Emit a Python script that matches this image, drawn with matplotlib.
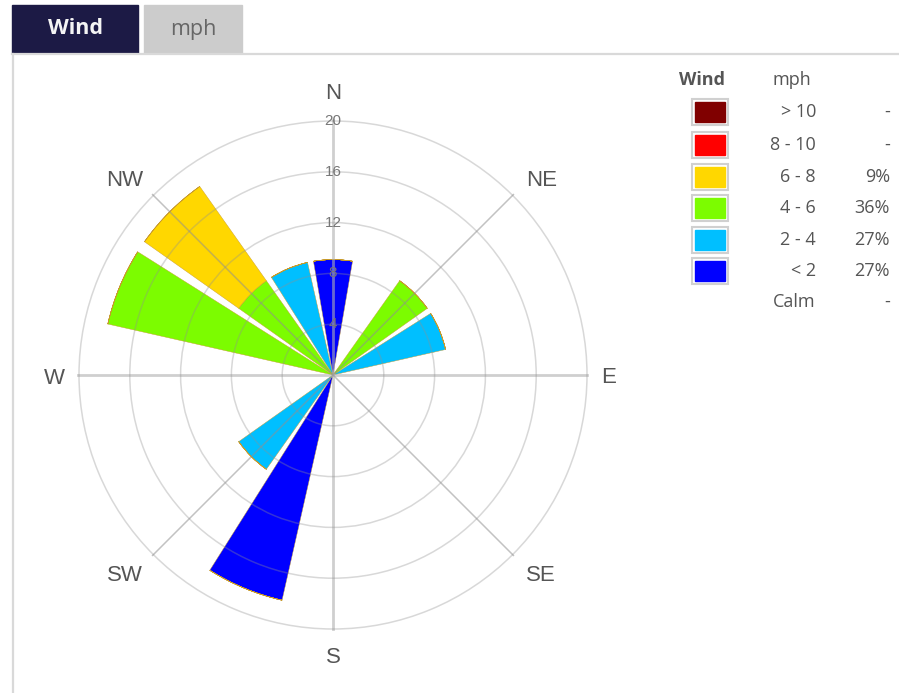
import numpy as np
import matplotlib
matplotlib.use("Agg")
import matplotlib.pyplot as plt
from matplotlib.patches import Rectangle
from matplotlib.transforms import offset_copy

# 16 compass sectors, values are % of observations (11 obs -> 9.09% each)
directions = ["N", "NNE", "NE", "ENE", "E", "ESE", "SE", "SSE",
              "S", "SSW", "SW", "WSW", "W", "WNW", "NW", "NNW"]
speed_bins = ["< 2", "2 - 4", "4 - 6", "6 - 8", "8 - 10", "> 10"]
bin_colors = ["#0000ff", "#00bfff", "#7cfc00", "#ffd700", "#ff0000", "#800000"]

lt2    = [9.09, 0, 0, 0, 0, 0, 0, 0, 0, 18.18, 0, 0, 0, 0, 0, 0]
s2_4   = [0, 0, 0, 9.09, 0, 0, 0, 0, 0, 0, 9.09, 0, 0, 0, 0, 9.09]
s4_6   = [0, 0, 9.09, 0, 0, 0, 0, 0, 0, 0, 0, 0, 0, 18.18, 9.09, 0]
s6_8   = [0, 0, 0, 0, 0, 0, 0, 0, 0, 0, 0, 0, 0, 0, 9.09, 0]
s8_10  = [0] * 16
gt10   = [0] * 16
series = [lt2, s2_4, s4_6, s6_8, s8_10, gt10]

legend_pct = ["27%", "27%", "36%", "9%", "-", "-"]
calm_pct = "-"
radial_ticks = [4, 8, 12, 16, 20]
compass_labels = ["N", "NE", "E", "SE", "S", "SW", "W", "NW"]

W, H = 899, 693
fig = plt.figure(figsize=(W / 100, H / 100), dpi=100)
FONT = "Open Sans"


def fx(x):
    return x / W


def fy(y):
    return 1 - y / H


# --- tabs on top
fig.patches.append(Rectangle((fx(12), fy(53)), (138 - 12) / W, 48 / H,
                             transform=fig.transFigure, color="#1c1a45", zorder=0))
fig.patches.append(Rectangle((fx(144), fy(53)), (242 - 144) / W, 48 / H,
                             transform=fig.transFigure, color="#cccccc", zorder=0))
fig.text(fx(75), fy(29), "Wind", color="#f4f4f4", fontsize=15.5, fontweight="bold",
         ha="center", va="center", family=FONT)
fig.text(fx(193), fy(29), "mph", color="#666666", fontsize=15.5,
         ha="center", va="center", family=FONT)
fig.add_artist(plt.Line2D([fx(12), 1], [fy(54), fy(54)], transform=fig.transFigure,
                          color="#d9d9d9", lw=1.6))
fig.add_artist(plt.Line2D([fx(13), fx(13)], [fy(54), 0], transform=fig.transFigure,
                          color="#d9d9d9", lw=1.6))

# --- wind rose
rmax = 20.15
R = 254 * rmax / 20
ax = fig.add_axes([fx(333 - R), fy(375 + R), 2 * R / W, 2 * R / H], projection="polar")
ax.set_theta_zero_location("N")
ax.set_theta_direction(-1)

theta = np.deg2rad(np.arange(16) * 22.5)
width = np.deg2rad(19.5)
bottom = np.zeros(16)
for vals, col in zip(series, bin_colors):
    vals = np.array(vals)
    ax.bar(theta, vals, width=width, bottom=bottom, color=col,
           edgecolor="#c89a2a", linewidth=0.3, zorder=1)
    bottom += vals

ax.set_ylim(0, rmax)
ax.set_yticks(radial_ticks)
ax.set_yticklabels([])
ax.set_xticks(np.deg2rad(np.arange(0, 360, 45)))
ax.set_xticklabels([])
ax.spines["polar"].set_visible(False)
ax.set_axisbelow(False)
ax.yaxis.grid(True, color="#909090", alpha=0.35, lw=1.1)
ax.xaxis.grid(True, color="#909090", alpha=0.55, lw=1.1)
for i, gl in enumerate(ax.xaxis.get_gridlines()):
    gl.set_data([gl.get_xdata()[0]] * 2, [0, 20])
    if i % 2 == 0:
        gl.set_color("#b0b0b0")
        gl.set_linewidth(2.0)
        gl.set_alpha(0.6)

for r in radial_ticks:
    ax.text(0, r, str(r), ha="center", va="center", fontsize=11,
            color="#777777", family="Liberation Sans", zorder=3)

# compass labels, nudged down a few pixels like the original
lab_tr = offset_copy(ax.transData, fig=fig, y=-3, units="dots")
label_r = [22.4, 22.6, 21.7, 22.6, 22.0, 22.6, 21.9, 22.6]
label_a = [0, 46.5, 90, 133.5, 180, 226.5, 270, 313.5]
for lab, lr, la in zip(compass_labels, label_r, label_a):
    ax.text(np.deg2rad(la), lr, lab, ha="center", va="center",
            fontsize=16, color="#555555", family="Liberation Sans",
            clip_on=False, transform=lab_tr)

# --- legend
txt = dict(color="#555555", fontsize=13, family=FONT, va="center")
fig.text(fx(702), fy(80), "Wind", ha="center", fontweight="bold", **txt)
fig.text(fx(792), fy(80), "mph", ha="center", **txt)
row_y = [271, 240, 208, 177, 145, 112]
for yy, lab, col, pct in zip(row_y, speed_bins, bin_colors, legend_pct):
    fig.patches.append(Rectangle((fx(692), fy(yy + 13)), 36 / W, 26 / H,
                                 transform=fig.transFigure, facecolor="white",
                                 edgecolor="#d0d0d0", lw=1.5))
    fig.patches.append(Rectangle((fx(695), fy(yy + 10)), 30 / W, 20 / H,
                                 transform=fig.transFigure, color=col))
    fig.text(fx(816), fy(yy), lab, ha="right", **txt)
    fig.text(fx(890), fy(yy), pct, ha="right", **txt)
fig.text(fx(816), fy(302), "Calm", ha="right", **txt)
fig.text(fx(890), fy(302), calm_pct, ha="right", **txt)

fig.savefig("out.png", dpi=100)
